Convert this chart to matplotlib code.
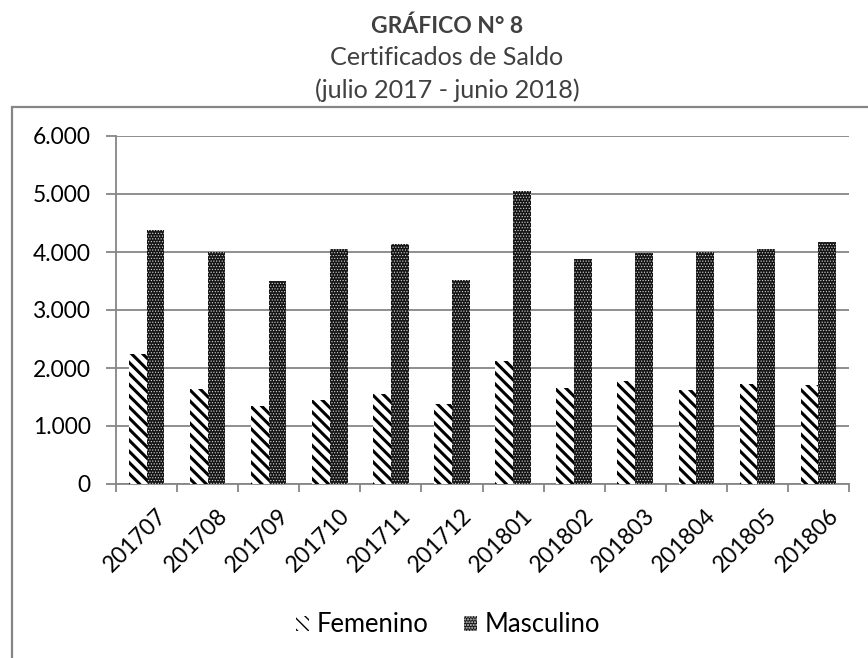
import matplotlib
matplotlib.use("Agg")
import matplotlib.pyplot as plt
import matplotlib.transforms as mtransforms
import numpy as np
from matplotlib.patches import Rectangle
from matplotlib.ticker import FuncFormatter

months = ["201707", "201708", "201709", "201710", "201711", "201712",
          "201801", "201802", "201803", "201804", "201805", "201806"]
femenino = [2233, 1633, 1346, 1444, 1547, 1376, 2118, 1661, 1775, 1616, 1729, 1707]
masculino = [4380, 3993, 3508, 4051, 4137, 3520, 5046, 3873, 3976, 3993, 4051, 4165]

GRID = "#868686"
TITLE = "#404040"
W, H = 868, 658

plt.rcParams["font.family"] = ["Lato", "DejaVu Sans"]

fig = plt.figure(figsize=(W / 100, H / 100), dpi=100)
renderer = fig.canvas.get_renderer()


def fit_size(text, target_px, weight="normal"):
    # font size (pt) that makes `text` about target_px wide
    t = fig.text(0, 0, text, fontsize=10, fontweight=weight)
    width = t.get_window_extent(renderer=renderer).width
    t.remove()
    return 10 * target_px / width


tick_fs = fit_size("6.000", 58)
legend_fs = fit_size("Femenino", 112)
title_fs = fit_size("(julio 2017 - junio 2018)", 266)
head_fs = fit_size("GRÁFICO N° 8", 152, "bold")

ax = fig.add_axes([116 / W, 1 - 484 / H, (849 - 116) / W, (484 - 136) / H])

# outer chart border, cut off at the right and bottom edges
fig.patches.append(Rectangle((12 / W, -0.05), 1.0, 1 - 107 / H + 0.05,
                             transform=fig.transFigure, fill=False,
                             edgecolor=GRID, linewidth=1.6))

x = np.arange(len(months))
w = 0.29
with plt.rc_context({"hatch.linewidth": 2.2}):
    ax.bar(x - w / 2, femenino, w, facecolor="white", edgecolor="black",
           linewidth=0, hatch="\\\\\\", label="Femenino", zorder=3)
with plt.rc_context({"hatch.linewidth": 0.5}):
    ax.bar(x + w / 2, masculino, w, facecolor="#151515", edgecolor="#d8d8d8",
           linewidth=0, hatch="......", label="Masculino", zorder=3)

ax.set_xlim(-0.5, len(months) - 0.5)
ax.set_ylim(0, 6000)
ax.set_yticks(np.arange(0, 6001, 1000))
ax.yaxis.set_major_formatter(FuncFormatter(lambda v, _: f"{int(v):,}".replace(",", ".")))
ax.grid(axis="y", color=GRID, linewidth=1.3, zorder=0)

ax.set_xticks(x)
ax.set_xticklabels(months, rotation=45, ha="right", va="top", rotation_mode="anchor")
ax.set_xticks(np.arange(-0.5, len(months)), minor=True)
ax.tick_params(axis="x", which="major", length=0, labelsize=tick_fs, pad=15)
ax.tick_params(axis="x", which="minor", length=6, color=GRID, width=1.3)
ax.tick_params(axis="y", length=7, color=GRID, width=1.3, labelsize=tick_fs, pad=11)
shift = mtransforms.ScaledTranslation(9 / 100, 0, fig.dpi_scale_trans)
for lbl in ax.get_xticklabels():
    lbl.set_transform(lbl.get_transform() + shift)

for side in ("top", "right"):
    ax.spines[side].set_visible(False)
for side in ("left", "bottom"):
    ax.spines[side].set_color(GRID)
    ax.spines[side].set_linewidth(1.3)

fig.legend(loc="center", bbox_to_anchor=(448 / W, 1 - 625 / H), ncol=2,
           frameon=False, fontsize=legend_fs, handlelength=0.5, handleheight=0.5,
           handletextpad=0.3, columnspacing=1.4)

fig.text(447 / W, 1 - 33 / H, "GRÁFICO N° 8", ha="center", va="baseline",
         fontsize=head_fs, fontweight="bold", color=TITLE)
fig.text(447 / W, 1 - 65 / H, "Certificados de Saldo", ha="center", va="baseline",
         fontsize=title_fs, color=TITLE)
fig.text(447 / W, 1 - 98 / H, "(julio 2017 - junio 2018)", ha="center", va="baseline",
         fontsize=title_fs, color=TITLE)

fig.savefig("out.png", dpi=100, facecolor="white")
